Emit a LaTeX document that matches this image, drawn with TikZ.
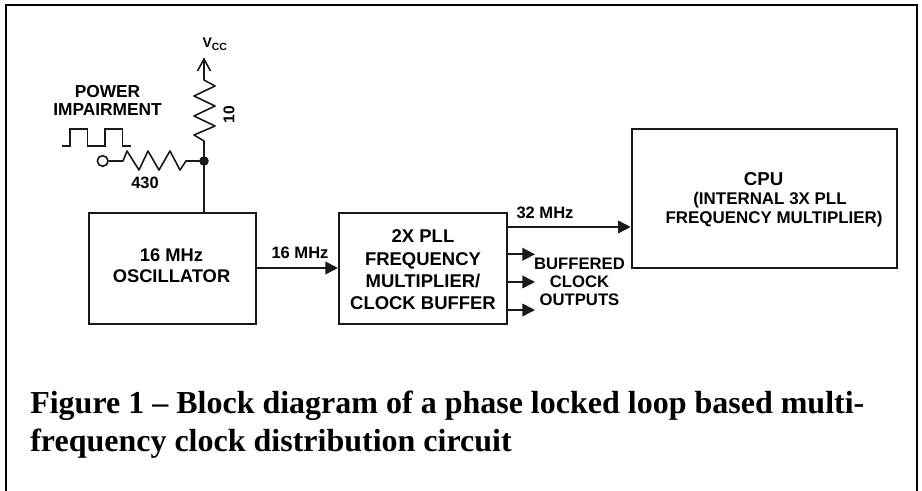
\documentclass[tikz,border=0pt]{standalone}
\usepackage{fontspec}
\setmainfont{Liberation Sans}
\newfontfamily\capfont{Liberation Serif}
\usetikzlibrary{arrows.meta}
\tikzset{
  px/.style={x=0.75pt,y=-0.75pt},
  wire/.style={line width=1.2pt,black!90},
  blockbox/.style={draw=black!90,line width=1.5pt,fill=white,inner sep=0pt,align=center},
  lab/.style={inner sep=0pt,align=center,font=\fontsize{12.4}{13.3}\selectfont\bfseries},
  sig/.style={wire,-{Triangle[length=9.5pt,width=9.5pt]}},
  captext/.style={inner sep=0pt,align=left,anchor=base west,font=\capfont\fontsize{24}{28.9}\selectfont\bfseries}
}
\begin{document}
\begin{tikzpicture}[px]
\useasboundingbox (0,0) rectangle (922,491);
\draw[black,line width=1.5pt] (6,491) -- (6,5) -- (916.7,5) -- (916.7,491);
% blocks
\node[blockbox,minimum width=125.25pt,minimum height=83.25pt] (osc) at (172.5,268.5) {};
\node[lab,font=\fontsize{13.75}{15.75}\selectfont\bfseries] (osctext) at (171.5,265.5) {16 MHz\\OSCILLATOR};
\node[blockbox,minimum width=126pt,minimum height=83.25pt] (pll) at (423,268.5) {};
\node[lab,font=\fontsize{13.85}{16.7}\selectfont\bfseries] (plltext) at (423,270) {2X PLL\\FREQUENCY\\MULTIPLIER/\\CLOCK BUFFER};
\node[blockbox,minimum width=198.75pt,minimum height=104.25pt] (cpu) at (764.2,198.5) {};
\node[lab,font=\fontsize{14}{15}\selectfont\bfseries] (cputitle) at (763.7,179) {CPU};
\node[lab,font=\fontsize{12.7}{14.25}\selectfont\bfseries] (cpusub) at (774,209.5) {\hspace*{-6pt}(INTERNAL 3X PLL\\FREQUENCY MULTIPLIER)};
% connectors
\draw[sig] (osc.east |- 0,268) -- (pll.west |- 0,268);
\draw[sig] (pll.east |- 0,227) -- (cpu.west |- 0,227);
\coordinate (b1) at (535,254.3);
\coordinate (b2) at (535,282);
\coordinate (b3) at (535,310);
\draw[sig] (pll.east |- b1) -- (b1);
\draw[sig] (pll.east |- b2) -- (b2);
\draw[sig] (pll.east |- b3) -- (b3);
\node[lab] (l16) at (300,252.7) {16 MHz};
\node[lab] (l32) at (545,212.7) {32 MHz};
\node[lab,font=\fontsize{12.5}{13.75}\selectfont\bfseries] (lbuf) at (579.5,282) {BUFFERED\\CLOCK\\OUTPUTS};
% vcc branch
\coordinate (j) at (204,161);
\coordinate (vtop) at (204,59);
\fill[black!90] (j) circle (4.8);
\draw[wire] (j) -- (osc.north -| j);
\draw[wire,line join=round] (j) -- (204,141) -- (194,135) -- (215,126) -- (194,116) -- (215,106) -- (194,96) -- (215,86) -- (204,80) -- (vtop);
\draw[wire] (197.5,71) -- (vtop) -- (210.5,71);
\node[inner sep=0pt,font=\fontsize{10.5}{12}\selectfont\bfseries] (vcc) at (214.7,44.5) {V\raisebox{-2.5pt}{\fontsize{7.8}{8}\selectfont CC}};
\node[lab,rotate=90,font=\fontsize{11.7}{12}\selectfont\bfseries] (r10) at (229,114.7) {10};
% impairment
\node[draw=black!90,line width=1.2pt,circle,minimum size=8pt,inner sep=0pt] (src) at (102.7,161) {};
\draw[wire,line join=round] (src) -- (123,161) -- (127,151) -- (139,170) -- (148,151) -- (159,170) -- (170,151) -- (180,170) -- (186,161) -- (j);
\draw[wire,line width=0.9pt] (61.7,146) -- (70,146) -- (70,129) -- (87.3,129) -- (87.3,146) -- (105,146) -- (105,129) -- (122.3,129) -- (122.3,146) -- (130.7,146);
\node[lab,font=\fontsize{13}{13.3}\selectfont\bfseries] (lpow) at (107.5,100.3) {POWER\\IMPAIRMENT};
\node[lab,font=\fontsize{12.3}{13}\selectfont\bfseries] (l430) at (145,183) {430};
% caption
\node[captext] (caption) at (30,451.7) {Figure 1 – Block diagram of a phase locked loop based multi-\\frequency clock distribution circuit};
\end{tikzpicture}
\end{document}
